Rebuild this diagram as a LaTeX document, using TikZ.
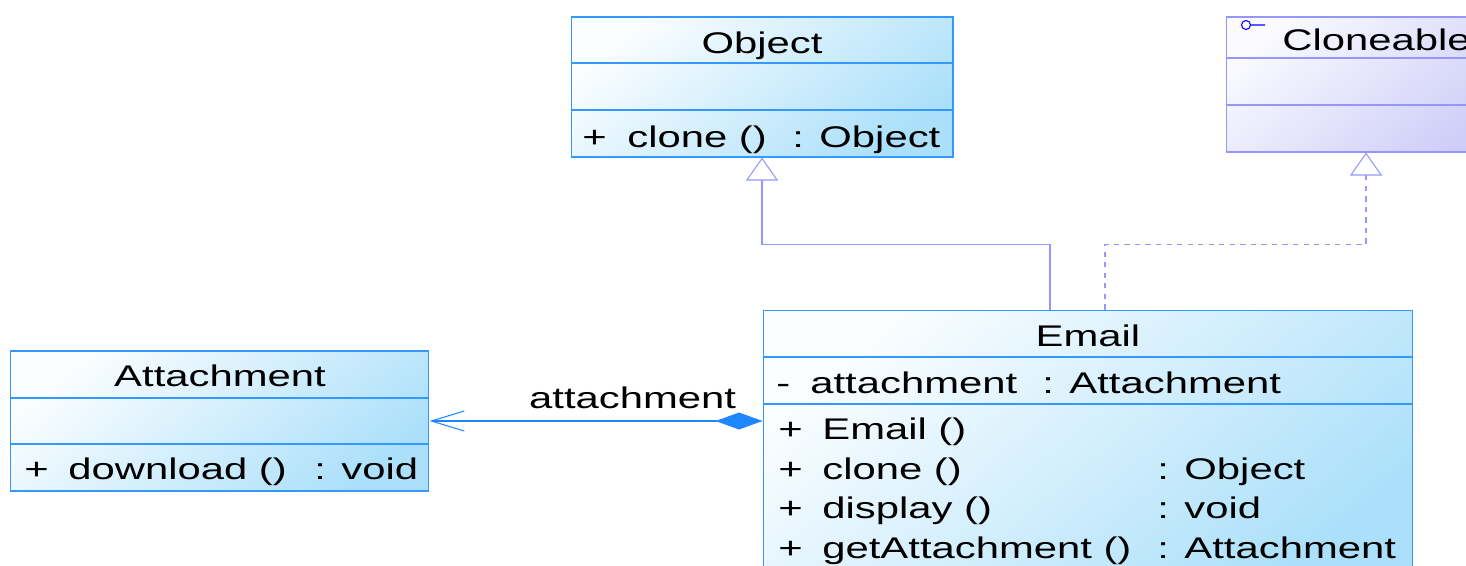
\documentclass[tikz,border=0pt]{standalone}
\usepackage{fontspec}
\setmainfont{Liberation Sans}[FakeStretch=1.4]
\usetikzlibrary{arrows.meta, positioning}
\definecolor{classline}{RGB}{51,153,255}
\definecolor{classtop}{RGB}{250,253,255}
\definecolor{classbot}{RGB}{172,224,250}
\definecolor{ifaceline}{RGB}{150,150,255}
\definecolor{ifacetop}{RGB}{250,250,255}
\definecolor{ifacebot}{RGB}{206,206,248}
\definecolor{relline}{RGB}{150,150,255}
\definecolor{compline}{RGB}{30,135,255}

\begin{document}
\begin{tikzpicture}[x=0.02cm, y=-0.02cm,
    classbox/.style={rectangle, draw=classline, line width=0.6pt, inner sep=0pt,
                     top color=classtop, bottom color=classbot, shading angle=40},
    ifacebox/.style={rectangle, draw=ifaceline, line width=0.6pt, inner sep=0pt,
                     top color=ifacetop, bottom color=ifacebot, shading angle=40},
    sep/.style={draw=classline, line width=0.6pt},
    ifacesep/.style={draw=ifaceline, line width=0.6pt},
    txt/.style={inner sep=0pt, anchor=base west, font=\fontsize{17pt}{20pt}\selectfont},
    title/.style={txt, anchor=base},
    inherit/.style={draw=relline, line width=0.6pt, -{Triangle[open, length=0.46cm, width=0.64cm]}},
    realize/.style={inherit, dash pattern=on 3pt off 3pt},
    compose/.style={draw=compline, line width=0.6pt,
                    {Diamond[length=0.94cm, width=0.34cm]}-{Straight Barb[length=0.66cm, width=0.4cm]}}]
    \useasboundingbox (0,0) rectangle (1466,565);

    % Object
    \node[classbox, minimum width=7.64cm, minimum height=2.8cm] (object) at (762,87) {};
    \draw[sep] (object.west |- 0,63) -- (object.east |- 0,63);
    \draw[sep] (object.west |- 0,110) -- (object.east |- 0,110);
    \node[title] (objectname) at (762,53) {Object};
    \node[txt] (objectvis) at (582,147) {+};
    \node[txt] (objectop) at (627,147) {clone ()};
    \node[txt] (objecttype) at (792,147) {: Object};

    % Cloneable
    \node[ifacebox, minimum width=5.6cm, minimum height=2.7cm] (cloneable) at (1366,84.5) {};
    \draw[ifacesep] (cloneable.west |- 0,58) -- (cloneable.east |- 0,58);
    \draw[ifacesep] (cloneable.west |- 0,105) -- (cloneable.east |- 0,105);
    \draw[blue, line width=0.6pt] (1246,25) circle[radius=0.09cm] (1250.5,25) -- (1265,25);
    \node[txt] (cloneablename) at (1282,50) {Cloneable};

    % Email
    \node[classbox, minimum width=13cm, minimum height=5.4cm] (email) at (1088,445) {};
    \draw[sep] (email.west |- 0,357) -- (email.east |- 0,357);
    \draw[sep] (email.west |- 0,404) -- (email.east |- 0,404);
    \node[title] (emailname) at (1088,346) {Email};
    \node[txt] (emailvis) at (776,393) {-};
    \node[txt] (emailattr) at (810,393) {attachment};
    \node[txt] (emailattrtype) at (1042,393) {: Attachment};
    \foreach \y/\op/\type [count=\i] in {439/Email ()/, 479/clone ()/: Object,
                                          518/display ()/: void, 558/getAttachment ()/: Attachment} {
        \node[txt] (emailvis\i) at (778,\y) {+};
        \node[txt] (emailop\i) at (822,\y) {\op};
        \node[txt] (emailtype\i) at (1157,\y) {\type};
    }

    % Attachment
    \node[classbox, minimum width=8.38cm, minimum height=2.8cm] (attachment) at (219.5,421) {};
    \draw[sep] (attachment.west |- 0,398) -- (attachment.east |- 0,398);
    \draw[sep] (attachment.west |- 0,444) -- (attachment.east |- 0,444);
    \node[title] (attachmentname) at (220,386) {Attachment};
    \node[txt] (attachmentvis) at (24,479) {+};
    \node[txt] (attachmentop) at (68,479) {download ()};
    \node[txt] (attachmenttype) at (314,479) {: void};

    % Relations
    \draw[inherit] ([xshift=-0.76cm]email.north) -- ++(0,-65) -| (object.south);
    \draw[realize] ([xshift=0.34cm]email.north) -- ++(0,-65) -| (cloneable.south);
    \draw[compose] (email.west |- attachment.east) -- node[txt, anchor=base, pos=0.39, yshift=0.26cm] (compname) {attachment} (attachment.east);
\end{tikzpicture}
\end{document}
